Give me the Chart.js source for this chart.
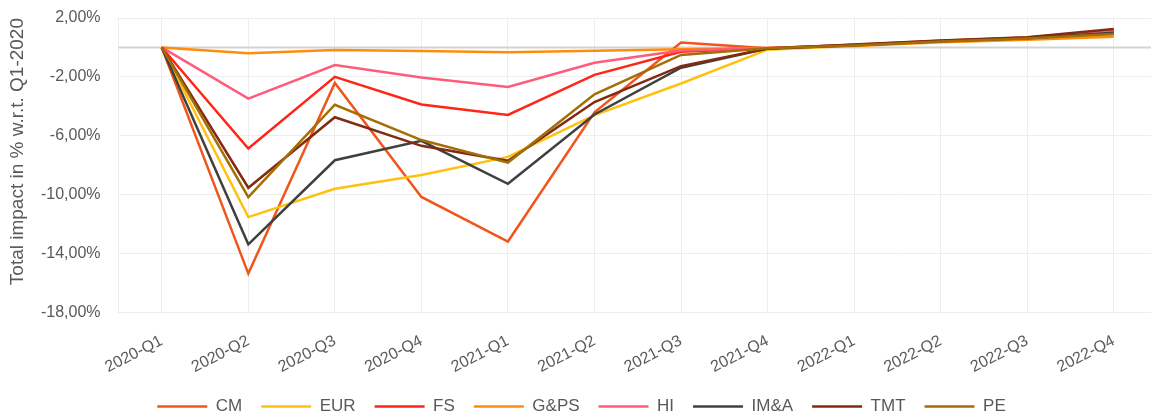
<!DOCTYPE html>
<html>
<head>
<meta charset="utf-8">
<script src="https://cdn.jsdelivr.net/npm/chart.js@4.4.1/dist/chart.umd.min.js"></script>
<style>
    html, body { margin: 0; padding: 0; background: #fff; overflow: hidden; }
    #wrap { position: relative; width: 1157px; height: 425px; }
</style>
</head>
<body>
<div id="wrap"><canvas id="impactChart"></canvas></div>
<script>
// Quarters on the x axis
const quarters = ['2020-Q1', '2020-Q2', '2020-Q3', '2020-Q4', '2021-Q1', '2021-Q2',
                  '2021-Q3', '2021-Q4', '2022-Q1', '2022-Q2', '2022-Q3', '2022-Q4'];

// Total impact in % w.r.t. Q1-2020, per sector
const cm   = [0, -15.36, -2.41, -10.15, -13.18, -4.40,  0.33, -0.05, 0.15, 0.42, 0.63, 1.00];
const eur  = [0, -11.52, -9.60,  -8.66,  -7.43, -4.60, -2.45, -0.15, 0.12, 0.38, 0.58, 0.85];
const fs   = [0,  -6.86, -2.00,  -3.87,  -4.58, -1.86, -0.29, -0.05, 0.18, 0.45, 0.68, 1.15];
const gps  = [0,  -0.40, -0.17,  -0.24,  -0.33, -0.22, -0.12, -0.03, 0.10, 0.35, 0.52, 0.72];
const hi   = [0,  -3.48, -1.20,  -2.04,  -2.68, -1.04, -0.20, -0.04, 0.17, 0.43, 0.65, 1.10];
const ima  = [0, -13.37, -7.66,  -6.34,  -9.26, -4.55, -1.38, -0.08, 0.15, 0.42, 0.62, 1.00];
const tmt  = [0,  -9.53, -4.74,  -6.68,  -7.70, -3.71, -1.27, -0.07, 0.20, 0.47, 0.70, 1.25];
const pe   = [0, -10.17, -3.89,  -6.29,  -7.82, -3.18, -0.51, -0.05, 0.14, 0.40, 0.60, 0.92];

const seriesNames = ['CM', 'EUR', 'FS', 'G&PS', 'HI', 'IM&A', 'TMT', 'PE'];
const seriesData = [cm, eur, fs, gps, hi, ima, tmt, pe];
const seriesColors = ['#F0561C', '#FFC10E', '#FF2617', '#FF8C0A', '#FF5C7C', '#404040', '#832A12', '#A26F05'];

// Y axis range / ticks
const yMin = -18;
const yMax = 2;
const yStep = 4;

// darker line at 0%
const zeroLine = {
    id: 'zeroLine',
    beforeDatasetsDraw(chart) {
        const { ctx, chartArea, scales } = chart;
        const y = scales.y.getPixelForValue(0);
        ctx.save();
        ctx.strokeStyle = '#D3D3D3';
        ctx.lineWidth = 2;
        ctx.beginPath();
        ctx.moveTo(chartArea.left, y);
        ctx.lineTo(chartArea.right, y);
        ctx.stroke();
        ctx.restore();
    }
};

const datasets = seriesNames.map((name, i) => ({
    label: name,
    data: seriesData[i],
    borderColor: seriesColors[i],
    backgroundColor: seriesColors[i],
    borderWidth: 2.5,
    pointRadius: 0,
    tension: 0,
    order: seriesNames.length - i   // later series on top, like the original
}));

const ctx = document.getElementById('impactChart').getContext('2d');
new Chart(ctx, {
    type: 'line',
    data: { labels: quarters, datasets: datasets },
    plugins: [zeroLine],
    options: {
        responsive: true,
        maintainAspectRatio: false,
        animation: false,
        layout: { padding: { top: 18, left: 6, right: 0, bottom: 0 } },
        plugins: {
            legend: {
                position: 'bottom',
                labels: {
                    usePointStyle: true,
                    pointStyle: 'line',
                    pointStyleWidth: 50,
                    padding: 19,
                    color: '#595959',
                    font: { family: 'Liberation Sans', size: 17 },
                    sort: (a, b) => a.datasetIndex - b.datasetIndex
                }
            },
            tooltip: { enabled: false }
        },
        scales: {
            x: {
                offset: true,
                grid: { color: '#EDEDED', lineWidth: 1, drawTicks: false },
                border: { color: '#EDEDED' },
                ticks: {
                    color: '#595959',
                    font: { family: 'Liberation Sans', size: 16 },
                    minRotation: 27,
                    maxRotation: 27,
                    padding: 19
                },
                afterFit: (scale) => { scale.height = 66.5; }
            },
            y: {
                min: yMin,
                max: yMax,
                grid: { color: '#EDEDED', lineWidth: 1, drawTicks: false },
                border: { color: '#EDEDED' },
                ticks: {
                    stepSize: yStep,
                    padding: 18,
                    color: '#595959',
                    font: { family: 'Liberation Sans', size: 16 },
                    callback: (v) => v.toFixed(2).replace('.', ',') + '%'
                },
                title: {
                    display: true,
                    text: 'Total impact in % w.r.t. Q1-2020',
                    align: 'end',
                    color: '#595959',
                    font: { family: 'Liberation Sans', size: 19 },
                    padding: 0
                },
                afterFit: (scale) => {
                    scale.width = 112.5;
                    scale.paddingTop = 0;
                    scale.paddingBottom = 0;
                }
            }
        }
    }
});
</script>
</body>
</html>
